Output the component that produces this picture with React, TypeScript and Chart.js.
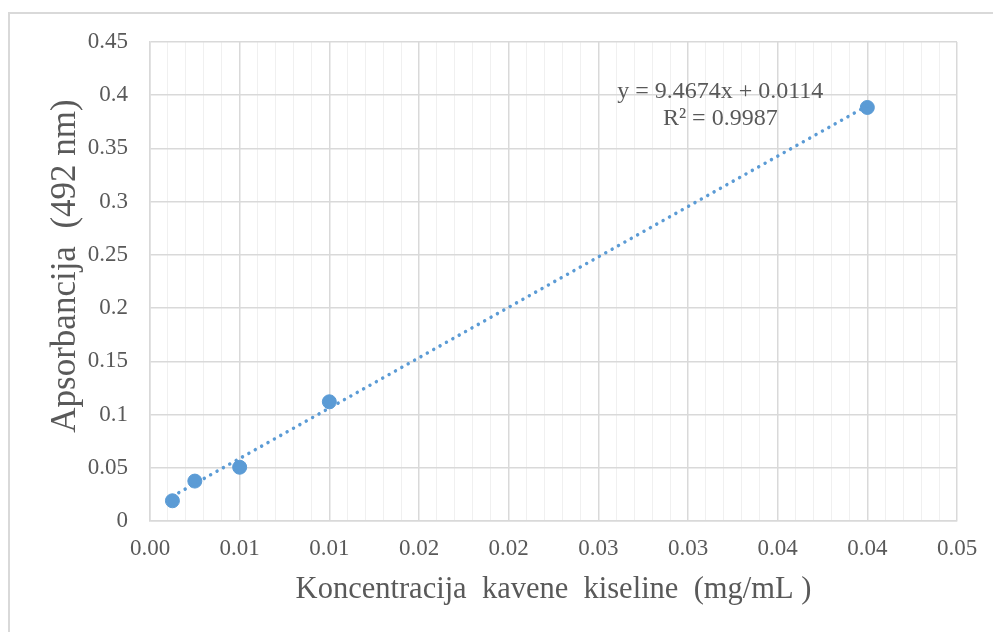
import React, { useEffect, useRef } from 'react';
import { Chart, registerables } from 'chart.js';

Chart.register(...registerables);

// ---- data ----
const xValues = [0.00125, 0.0025, 0.005, 0.01, 0.04];
const yValues = [0.019, 0.0375, 0.0505, 0.112, 0.3885];
const xTickLabels = ['0.00', '0.01', '0.01', '0.02', '0.02', '0.03', '0.03', '0.04', '0.04', '0.05'];
const yTickLabels = ['0', '0.05', '0.1', '0.15', '0.2', '0.25', '0.3', '0.35', '0.4', '0.45'];
const trendSlope = 9.4674;
const trendIntercept = 0.0114;
const trendRange = [0.00125, 0.04];
const equationLines = ['y = 9.4674x + 0.0114', 'R² = 0.9987'];
const equationAnchor = [0.0318, 0.3975];
const xTitle = 'Koncentracija  kavene  kiseline  (mg/mL )';
const yTitle = 'Apsorbancija  (492 nm)';

const FONT = '"Liberation Serif", "Times New Roman", serif';
const TEXT = '#595959';
const MAJOR = '#d9d9d9';
const MINOR = '#f0f0f0';
const BLUE = '#5b9bd5';

export default function App() {
  const ref = useRef<HTMLCanvasElement | null>(null);

  useEffect(() => {
    if (!ref.current) return;
    const textPlugin = {
      id: 'texts',
      afterDatasetsDraw(chart: any) {
        const { ctx, scales } = chart;
        const cx = scales.x.getPixelForValue(equationAnchor[0]);
        const cy = scales.y.getPixelForValue(equationAnchor[1]);
        ctx.save();
        ctx.font = `24px ${FONT}`;
        ctx.fillStyle = TEXT;
        ctx.textAlign = 'center';
        ctx.textBaseline = 'alphabetic';
        equationLines.forEach((t, i) => ctx.fillText(t, cx, cy + i * 27));
        ctx.restore();

        // vertical axis title
        ctx.save();
        ctx.translate(66, 266);
        ctx.rotate(-Math.PI / 2);
        ctx.font = `35px ${FONT}`;
        ctx.fillStyle = TEXT;
        ctx.textAlign = 'center';
        ctx.textBaseline = 'middle';
        ctx.fillText(yTitle, 0, 0);
        ctx.restore();
      },
    };

    const chart = new Chart(ref.current, {
      type: 'scatter',
      data: {
        datasets: [
          {
            type: 'line',
            label: 'trend',
            data: trendRange.map((x) => ({ x, y: trendSlope * x + trendIntercept })),
            borderColor: BLUE,
            borderWidth: 3.5,
            borderDash: [0.01, 7.3],
            borderCapStyle: 'round',
            pointRadius: 0,
            fill: false,
          } as any,
          {
            label: 'data',
            data: xValues.map((x, i) => ({ x, y: yValues[i] })),
            backgroundColor: BLUE,
            borderColor: BLUE,
            pointRadius: 7,
            pointHoverRadius: 7,
          },
        ],
      },
      options: {
        animation: false,
        responsive: false,
        maintainAspectRatio: false,
        layout: { padding: { top: 42, right: 36, left: 0, bottom: 0 } },
        plugins: { legend: { display: false }, tooltip: { enabled: false } },
        scales: {
          x: {
            type: 'linear',
            min: 0,
            max: 0.045,
            afterFit: (s: any) => { s.height = 111; },
            ticks: {
              stepSize: 0.001,
              autoSkip: false,
              maxTicksLimit: 100,
              maxRotation: 0,
              padding: 14,
              color: TEXT,
              font: { family: FONT, size: 23 },
              callback: (_v: any, i: number) => (i % 5 === 0 ? xTickLabels[i / 5] : ''),
            },
            grid: {
              drawTicks: false,
              color: (c: any) => (c.index % 5 === 0 ? MAJOR : MINOR),
              lineWidth: (c: any) => (c.index % 5 === 0 ? 1.5 : 1),
            },
            border: { color: MAJOR, width: 1.5 },
            title: {
              display: true,
              text: xTitle,
              color: TEXT,
              font: { family: FONT, size: 30.5 },
              padding: { top: 0, bottom: 24 },
            },
          },
          y: {
            type: 'linear',
            min: 0,
            max: 0.45,
            afterFit: (s: any) => { s.width = 150; },
            ticks: {
              stepSize: 0.05,
              padding: 22,
              color: TEXT,
              font: { family: FONT, size: 23 },
              callback: (_v: any, i: number) => yTickLabels[i],
            },
            grid: { drawTicks: false, color: MAJOR, lineWidth: 1.5 },
            border: { color: MAJOR, width: 1.5 },
            title: { display: false },
          },
        },
      },
      plugins: [textPlugin],
    });
    return () => chart.destroy();
  }, []);

  return (
    <div style={{ position: 'fixed', left: 0, top: 0, width: 993, height: 632, overflow: 'hidden', background: '#fff' }}>
      <canvas ref={ref} width={993} height={632} style={{ position: 'absolute', left: 0, top: 0, width: 993, height: 632 }} />
      <div style={{ position: 'absolute', left: 8, top: 12, width: 1100, height: 1000, border: '2px solid #d9d9d9', pointerEvents: 'none' }} />
    </div>
  );
}
